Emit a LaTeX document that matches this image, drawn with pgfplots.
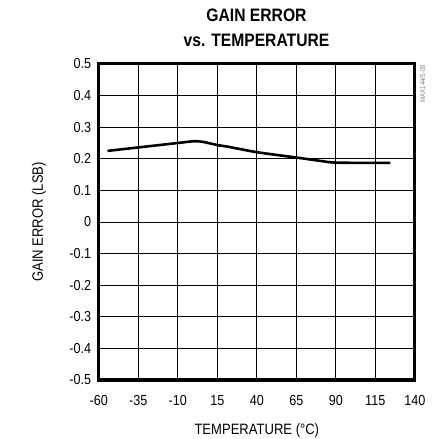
\documentclass[border=0pt]{standalone}
\usepackage{fontspec}
\setmainfont{Liberation Sans}
\usepackage{graphicx}
\usepackage{pgfplots}
\pgfplotsset{compat=1.18}
\newcommand{\nar}[1]{\scalebox{0.87}[1]{#1}}
\begin{document}
\begin{tikzpicture}
\useasboundingbox (0bp,0bp) rectangle (434bp,439bp);
\begin{axis}[
  at={(98.8bp,59bp)}, anchor=south west,
  scale only axis, width=316bp, height=316bp,
  xmin=-60, xmax=140, ymin=-0.5, ymax=0.5,
  xtick={-60,-35,-10,15,40,65,90,115,140},
  xticklabels={\nar{-60},\nar{-35},\nar{-10},\nar{15},\nar{40},\nar{65},\nar{90},\nar{115},\nar{140}},
  ytick={-0.5,-0.4,-0.3,-0.2,-0.1,0,0.1,0.2,0.3,0.4,0.5},
  yticklabels={\nar{-0.5},\nar{-0.4},\nar{-0.3},\nar{-0.2},\nar{-0.1},\nar{0},\nar{0.1},\nar{0.2},\nar{0.3},\nar{0.4},\nar{0.5}},
  major tick length=0pt,
  grid=major,
  grid style={black, line width=0.8bp},
  axis line style={black, line width=3bp},
  ticklabel style={font=\fontsize{14.5bp}{16bp}\selectfont, inner sep=0pt},
  yticklabel style={xshift=-7.5bp},
  xticklabel style={yshift=-15bp},
  ylabel={\nar{GAIN ERROR (LSB)}},
  ylabel style={font=\fontsize{15bp}{17bp}\selectfont, at={(axis description cs:-0.1766,0.5)}, anchor=base, inner sep=0pt},
  xlabel={\nar{TEMPERATURE (°C)}},
  xlabel style={font=\fontsize{15bp}{17bp}\selectfont, at={(axis description cs:0.5,-0.174)}, anchor=base, inner sep=0pt},
  /pgf/number format/assume math mode=true,
  clip=false,
]
\addplot[black, line width=2.6bp, smooth, tension=0.5] coordinates {
  (-54.5,0.225) (-35,0.236) (-10,0.250) (0,0.2555) (6,0.2535) (15,0.2435)
  (22,0.238) (40,0.221) (65,0.204) (80,0.1935) (90,0.188) (115,0.187) (124.6,0.187)
};
\end{axis}
\node[font=\fontsize{18bp}{20bp}\selectfont\bfseries, anchor=base] at (256.5bp,417bp) {\nar{GAIN ERROR}};
\node[font=\fontsize{18bp}{20bp}\selectfont\bfseries, anchor=base] at (256.5bp,392bp) {\nar{vs. TEMPERATURE}};
\node[font=\fontsize{7bp}{8bp}\selectfont, text=gray, anchor=base east, rotate=90, inner sep=0pt] at (425bp,374bp) {\nar{MAX144/5-09}};
\end{tikzpicture}
\end{document}
